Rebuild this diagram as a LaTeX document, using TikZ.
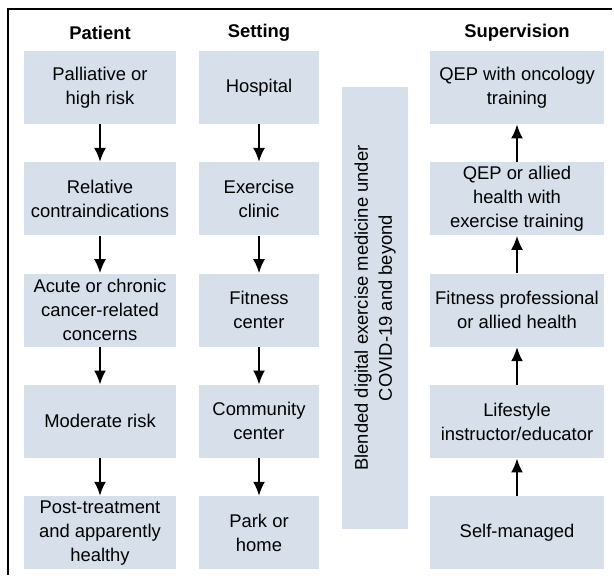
\documentclass[tikz,border=0pt]{standalone}
\usepackage{fontspec}
\setmainfont{Liberation Sans}
\usepackage{tikz}
\usetikzlibrary{positioning,shapes,arrows,arrows.meta}
\definecolor{boxfill}{RGB}{214,223,234}
\newcommand{\boxfont}{\fontsize{9.2pt}{12pt}\selectfont}

\begin{document}
\begin{tikzpicture}[
  x=0.5pt, y=-0.5pt,
  node distance=18.75pt and 11.5pt,
  mybox/.style={fill=boxfill,align=center,minimum height=36.5pt,inner sep=2pt,font=\boxfont},
  patbox/.style={mybox,minimum width=76pt},
  setbox/.style={mybox,minimum width=60pt},
  supbox/.style={mybox,minimum width=87pt},
  myhead/.style={font=\boxfont\bfseries},
  myarrow/.style={-{Latex[length=7pt,width=6pt]},line width=1pt}
]
\useasboundingbox (0,0) rectangle (614,575);
\draw[line width=1pt] (612,9) -- (7.5,9) -- (7.5,575);
% column headers
\node[myhead] (hp) at (100,33) {Patient};
\node[myhead] (hs) at (259,33) {Setting};
\node[myhead] (hv) at (517,33) {Supervision};
% patient
\node[patbox] (p1) at (100,87.5) {Palliative or\\high risk};
\node[patbox, below=of p1] (p2) {Relative\\contraindications};
\node[patbox, below=of p2] (p3) {Acute or chronic\\cancer-related\\concerns};
\node[patbox, below=of p3] (p4) {Moderate risk};
\node[patbox, below=of p4] (p5) {Post-treatment\\and apparently\\healthy};
% setting
\node[setbox] (s1) at (259,87.5) {Hospital};
\node[setbox, below=of s1] (s2) {Exercise\\clinic};
\node[setbox, below=of s2] (s3) {Fitness\\center};
\node[setbox, below=of s3] (s4) {Community\\center};
\node[setbox, below=of s4] (s5) {Park or\\home};
% blended
\node[mybox, rotate=90, minimum width=221pt, minimum height=33pt] (bl) at (375,308) {Blended digital exercise medicine under\\COVID-19 and beyond};
% supervision
\node[supbox] (v1) at (517,87.5) {QEP with oncology\\training};
\node[supbox, below=of v1] (v2) {QEP or allied\\health with\\exercise training};
\node[supbox, below=of v2] (v3) {Fitness professional\\or allied health};
\node[supbox, below=of v3] (v4) {Lifestyle\\instructor/educator};
\node[supbox, below=of v4] (v5) {Self-managed};
\foreach \i/\j in {1/2,2/3,3/4,4/5}{
  \draw[myarrow] (p\i) -- (p\j);
  \draw[myarrow] (s\i) -- (s\j);
  \draw[myarrow] (v\j) -- (v\i);
}
\end{tikzpicture}
\end{document}
